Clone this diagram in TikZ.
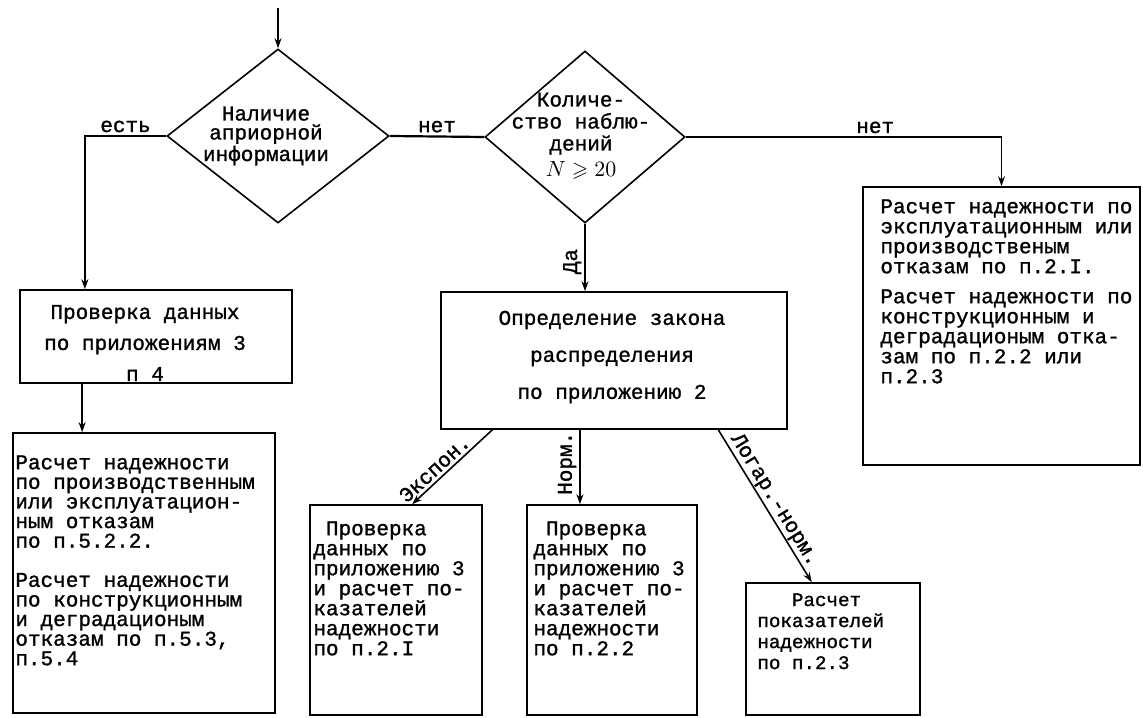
\documentclass[tikz,border=0pt]{standalone}
\usepackage{amssymb}
\usepackage{fontspec}
\setmonofont{Liberation Mono}[FakeBold=1.2]
\usetikzlibrary{shapes.geometric,arrows.meta,calc}
\newcommand\fs[1]{\ttfamily\fontsize{10.5}{#1}\selectfont}
\tikzset{
 box/.style={draw, line width=0.8pt, rectangle, inner sep=0pt},
 dia/.style={draw, diamond, line width=0.8pt, inner sep=0pt},
 txt/.style={inner sep=0pt, align=left, anchor=north west},
 ctxt/.style={inner sep=0pt, align=center},
 lbl/.style={inner sep=1.5pt, font=\fs{10}},
 arr/.style={line width=0.8pt, -{Stealth[length=5pt,width=3.5pt]}},
 rarr/.style={line width=0.8pt, {Stealth[length=5pt,width=3.5pt]}-},
 con/.style={line width=1.1pt},
}
\begin{document}
\begin{tikzpicture}[x=0.5pt,y=-0.5pt]
\useasboundingbox (0,0) rectangle (1143,717);
% decisions
\node[dia, minimum width=111pt, minimum height=87pt] (d1) at (278,136) {};
\node[ctxt, font=\fs{9.5}] (d1t) at (266,136) {Наличие\\априорной\\информации};
\node[dia, minimum width=100pt, minimum height=86pt] (d2) at (585,137) {};
\node[ctxt, font=\fs{11}] (d2t) at (581,136) {Количе-\\ство наблю-\\дений\\[2pt]$N\geqslant20$};
% boxes
\node[box, minimum width=136pt, minimum height=46.5pt] (b1) at (156,336.5) {};
\node[ctxt, font=\fs{15.5}] (b1t) at (145,343) {Проверка данных\\по приложениям 3\\п 4};
\node[box, minimum width=131pt, minimum height=140pt] (b2) at (144,573) {};
\node[txt, font=\fs{9.8}] (b2t) at (15,455) {Расчет надежности\\по производственным\\или эксплуатацион-\\ным отказам\\по п.5.2.2.\\[9.8pt]Расчет надежности\\по конструкционным\\и деградационым\\отказам по п.5.3,\\п.5.4};
\node[box, minimum width=173pt, minimum height=68.5pt] (bm) at (614,360.5) {};
\node[ctxt, font=\fs{18.5}] (bmt) at (612,357) {Определение закона\\распределения\\по приложению 2};
\node[box, minimum width=86pt, minimum height=105pt] (b3) at (396,610) {};
\node[txt, font=\fs{10}] (b3t) at (313,521) {\hphantom{П}Проверка\\данных по\\приложению 3\\и расчет по-\\казателей\\надежности\\по п.2.I};
\node[box, minimum width=85pt, minimum height=105pt] (b4) at (612,610) {};
\node[txt, font=\fs{10}] (b4t) at (533,521) {\hphantom{П}Проверка\\данных по\\приложению 3\\и расчет по-\\казателей\\надежности\\по п.2.2};
\node[box, minimum width=87pt, minimum height=66pt] (b5) at (833,649) {};
\node[txt, font=\ttfamily\fontsize{9.6}{10.5}\selectfont] (b5t) at (757,593) {\hphantom{ппп}Расчет\\показателей\\надежности\\по п.2.3};
\node[box, minimum width=138.5pt, minimum height=139pt] (br) at (1001.5,326) {};
\node[txt, font=\fs{10}] (brt) at (880,199) {Расчет надежности по\\эксплуатационным или\\производственым\\отказам по п.2.I.\\[5pt]Расчет надежности по\\конструкционным и\\деградационым отка-\\зам по п.2.2 или\\п.2.3};
% connector points
\coordinate (start) at (278,8);
\coordinate (c1) at ($(b1.north west)!0.24!(b1.north east)$);
\coordinate (c2) at ($(b1.south west)!0.23!(b1.south east)$);
\coordinate (e1) at ($(bm.south west)!0.15!(bm.south east)$);
\coordinate (e2) at ($(b3.north west)!0.593!(b3.north east)$);
\coordinate (n1) at ($(bm.south west)!0.402!(bm.south east)$);
\coordinate (l1) at ($(bm.south west)!0.8!(bm.south east)$);
\coordinate (l2) at ($(b5.north west)!0.379!(b5.north east)$);
% connectors
\draw[arr] (start) -- (d1.north);
\draw[arr] (d1.west) -| node[lbl, above, pos=0.25] {есть} (c1);
\draw[arr] (c2) -- (c2 |- b2.north);
\draw[con] (d1.east) -- node[lbl, above] {нет} (d2.west);
\draw[arr] (d2.east) -| node[lbl, above, pos=0.3] {нет} (br.north);
\draw[arr] (d2.south) -- node[lbl, rotate=90, anchor=south, pos=0.56] {Да} (d2.south |- bm.north);
\draw[rarr] (e2) -- node[lbl, sloped, above, pos=0.37] {Экспон.} (e1);
\draw[arr] (n1) -- node[lbl, rotate=90, anchor=south, pos=0.45] {Норм.} (n1 |- b4.north);
\draw[arr] (l1) -- node[lbl, sloped, above, pos=0.5, inner sep=0.5pt] {Логар.-норм.} (l2);
\end{tikzpicture}
\end{document}
